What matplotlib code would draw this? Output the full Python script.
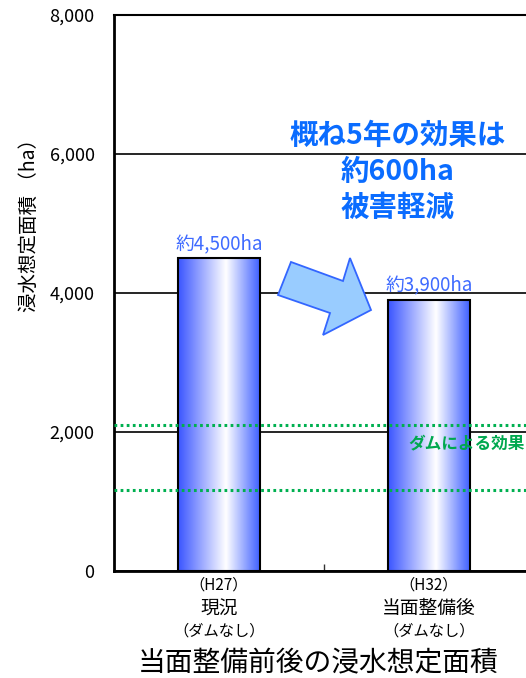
import matplotlib
matplotlib.use("Agg")
import matplotlib.pyplot as plt
import numpy as np
from matplotlib.colors import LinearSegmentedColormap
from matplotlib.patches import Polygon
from matplotlib.ticker import FuncFormatter

plt.rcParams['font.family'] = ['Noto Sans CJK JP', 'DejaVu Sans']

# data
years = ['（H27）', '（H32）']
stages = ['現況', '当面整備後']
notes = ['（ダムなし）', '（ダムなし）']
area = [4500, 3900]
value_labels = ['約4,500ha', '約3,900ha']
dam_band = [1160, 2100]
y_ticks = [0, 2000, 4000, 6000, 8000]

fig = plt.figure(figsize=(5.26, 6.78), dpi=100)
ax = fig.add_axes([114 / 526, 107 / 678, 412 / 526, 556 / 678])

x = np.arange(len(area))
bar_w = 0.395
bars = ax.bar(x, area, width=bar_w, color='none', edgecolor='black',
              linewidth=1.5, zorder=3)

# blue - white - blue shading across each bar
cmap = LinearSegmentedColormap.from_list(
    'barshade', [(0.0, '#3a55ff'), (0.58, '#ffffff'), (1.0, '#3a5cff')])
grad = np.linspace(0, 1, 256).reshape(1, -1)
for b in bars:
    x0, w, h = b.get_x(), b.get_width(), b.get_height()
    im = ax.imshow(grad, cmap=cmap, aspect='auto', extent=(x0, x0 + w, 0, h),
                   zorder=2, interpolation='bilinear')
    im.set_clip_path(b)

for xi, v, lab in zip(x, area, value_labels):
    ax.annotate(lab, (xi, v), xytext=(0, 3), textcoords='offset points',
                ha='center', va='bottom', fontsize=13.5, color='#3f6bff')

# dam effect band
for yv in dam_band:
    ax.axhline(yv, color='#00b050', linewidth=2.2, dashes=(0.9, 1.1), zorder=4)
ax.text(0.9, 1830, 'ダムによる効果', color='#00a84f', fontsize=12,
        fontweight='bold', ha='left', va='center', zorder=5)

# block arrow between the bars
arrow_pts = [(0.4296, 0.5558), (0.5558, 0.5216), (0.5728, 0.5629),
             (0.6238, 0.4694), (0.5073, 0.4245), (0.5243, 0.4640),
             (0.3981, 0.4964)]
ax.add_patch(Polygon(arrow_pts, closed=True, transform=ax.transAxes,
                     facecolor='#99ccff', edgecolor='#3366ff', linewidth=1.3,
                     zorder=4))

ax.text(0.85, 5740, '概ね5年の効果は\n約600ha\n被害軽減', color='#0a6cff',
        fontsize=20.5, fontweight='bold', ha='center', va='center',
        linespacing=1.38, zorder=5)

ax.set_ylim(0, 8000)
ax.set_xlim(-0.5, -0.5 + 412 / 210)
ax.set_yticks(y_ticks)
ax.yaxis.set_major_formatter(FuncFormatter(lambda v, p: f'{int(v):,}'))
ax.tick_params(axis='y', length=0, pad=14, labelsize=13)
ax.yaxis.grid(True, color='black', linewidth=1.2)
ax.set_axisbelow(True)

ax.set_xticks([0.5])
ax.set_xticklabels([''])
ax.tick_params(axis='x', direction='in', length=5, width=1, color='#333333')

for side in ['left', 'bottom']:
    ax.spines[side].set_linewidth(2)
ax.spines['top'].set_linewidth(1.5)
ax.spines['right'].set_visible(False)

for xi, yr, st, nt in zip(x, years, stages, notes):
    ax.annotate(yr, (xi, 0), xycoords=('data', 'axes fraction'),
                xytext=(0, -10), textcoords='offset points',
                ha='center', va='center', fontsize=11)
    ax.annotate(st, (xi, 0), xycoords=('data', 'axes fraction'),
                xytext=(0, -27), textcoords='offset points',
                ha='center', va='center', fontsize=13.5)
    ax.annotate(nt, (xi, 0), xycoords=('data', 'axes fraction'),
                xytext=(0, -43), textcoords='offset points',
                ha='center', va='center', fontsize=11)

ax.set_ylabel('浸水想定面積 （ha）', fontsize=14)
ax.yaxis.set_label_coords(-0.18, 0.63)

fig.text(318 / 526, 1 - 663 / 678, '当面整備前後の浸水想定面積', fontsize=20,
         ha='center', va='center')

fig.savefig('out.png', dpi=100)
